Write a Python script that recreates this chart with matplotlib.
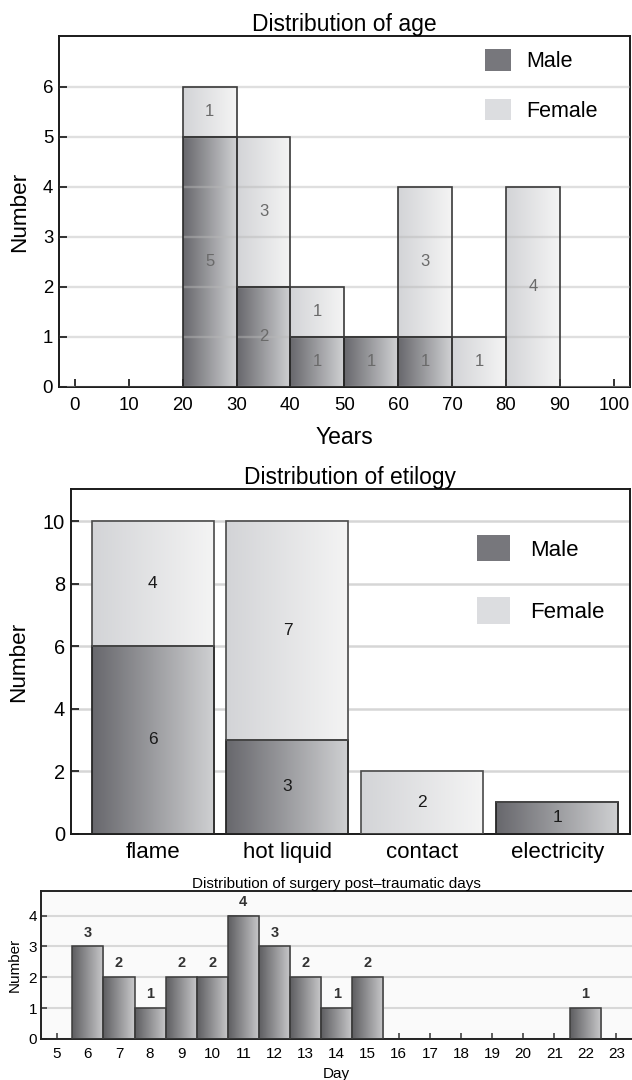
import numpy as np
import matplotlib
matplotlib.use("Agg")
import matplotlib.pyplot as plt
from matplotlib.colors import LinearSegmentedColormap
from matplotlib.patches import Patch
from matplotlib import font_manager

plt.rcParams['font.family'] = ['Liberation Sans', 'DejaVu Sans']

_names = {f.name for f in font_manager.fontManager.ttflist}
NARROW = 'Liberation Sans Narrow' in _names

# ---------------- data ----------------
age_bins = [0, 10, 20, 30, 40, 50, 60, 70, 80, 90]
age_male = [0, 0, 5, 2, 1, 1, 1, 0, 0]
age_female = [0, 0, 1, 3, 1, 0, 3, 1, 4]
age_ticks = [0, 10, 20, 30, 40, 50, 60, 70, 80, 90, 100]

etiology = ['flame', 'hot liquid', 'contact', 'electricity']
etio_male = [6, 3, 0, 1]
etio_female = [4, 7, 2, 0]

days = [6, 7, 8, 9, 10, 11, 12, 13, 14, 15, 22]
day_counts = [3, 2, 1, 2, 2, 4, 3, 2, 1, 2, 1]
day_ticks = list(range(5, 24))

MALE = ('#68686d', '#cfd0d2')
FEMALE = ('#d3d4d7', '#f4f4f4')
DAYC = ('#5e5e61', '#c9c9cb')

grad = np.linspace(0, 1, 64).reshape(1, -1)


def shade(ax, bars, colors, z):
    cmap = LinearSegmentedColormap.from_list('g', list(colors))
    for b in bars:
        h = b.get_height()
        if h <= 0:
            continue
        x, y = b.get_xy()
        w = b.get_width()
        ax.imshow(grad, extent=[x, x + w, y, y + h], aspect='auto', cmap=cmap,
                  interpolation='bilinear', zorder=z)


fig = plt.figure(figsize=(6.32, 10.8), dpi=100)

# ---------------- panel 1: age ----------------
ax1 = fig.add_axes([0.0929, 0.6417, 0.9035, 0.325])
left = age_bins[:-1]
b_m = ax1.bar(left, age_male, width=10, align='edge', facecolor='none',
              edgecolor='#2a2a2a', linewidth=1.2, zorder=3)
b_f = ax1.bar(left, age_female, width=10, bottom=age_male, align='edge',
              facecolor='none', edgecolor='#3a3a3a', linewidth=1.2, zorder=3)
shade(ax1, b_m, MALE, 2)
shade(ax1, b_f, FEMALE, 2)
for x, m, f in zip(left, age_male, age_female):
    if m > 0:
        ax1.text(x + 5, m / 2, str(m), ha='center', va='center', fontsize=12,
                 color='#6a6a6a', zorder=6)
    if f > 0:
        ax1.text(x + 5, m + f / 2, str(f), ha='center', va='center', fontsize=12,
                 color='#6a6a6a', zorder=6)
ax1.set_xlim(-3.0, 102.95)
ax1.set_ylim(0, 7.02)
ax1.set_xticks(age_ticks)
ax1.set_yticks(range(0, 7))
ax1.yaxis.grid(True, color='#b8b8b8', linewidth=1.7, alpha=0.45, zorder=5)
ax1.set_axisbelow(False)
ax1.tick_params(direction='in', length=6, width=1.3, labelsize=13.4, color='#222222')
ax1.tick_params(axis='x', pad=7)
ax1.tick_params(axis='y', pad=4)
for s in ax1.spines.values():
    s.set_linewidth(1.4)
    s.set_color('#1a1a1a')
ax1.set_title('Distribution of age', fontsize=16.5, pad=3)
ax1.set_xlabel('Years', fontsize=16.5, labelpad=9)
ax1.set_ylabel('Number', fontsize=16.2, labelpad=9)
ax1.legend(handles=[Patch(facecolor='#77777c', edgecolor='none', label='Male'),
                    Patch(facecolor='#dcdde0', edgecolor='none', label='Female')],
           loc='upper left', bbox_to_anchor=(485 / 632, 1 - 49 / 1080),
           bbox_transform=fig.transFigure, frameon=False, fontsize=15.5,
           handlelength=1.21, handleheight=1.16, handletextpad=0.7,
           labelspacing=1.25, borderpad=0, borderaxespad=0)

# ---------------- panel 2: etiology ----------------
ax2 = fig.add_axes([0.1119, 0.2282, 0.8850, 0.3187])
xpos = np.arange(len(etiology))
e_m = ax2.bar(xpos, etio_male, width=0.905, facecolor='none',
              edgecolor='#262626', linewidth=1.3, zorder=3)
e_f = ax2.bar(xpos, etio_female, width=0.905, bottom=etio_male, facecolor='none',
              edgecolor='#4a4a4a', linewidth=1.2, zorder=3)
shade(ax2, e_m, MALE, 2)
shade(ax2, e_f, FEMALE, 2)
lab_font = ['Liberation Sans Narrow', 'Liberation Sans'] if NARROW else ['Liberation Sans']
for x, m, f in zip(xpos, etio_male, etio_female):
    if m > 0:
        ax2.text(x, m / 2, str(m), ha='center', va='center',
                 fontsize=14 if NARROW else 12.5, family=lab_font,
                 color='#1a1a1a', zorder=6)
    if f > 0:
        ax2.text(x, m + f / 2, str(f), ha='center', va='center',
                 fontsize=14 if NARROW else 12.5, family=lab_font,
                 color='#1a1a1a', zorder=6)
ax2.set_xlim(-0.607, 3.54)
ax2.set_ylim(0, 11.03)
ax2.set_xticks(xpos)
ax2.set_xticklabels(etiology, family=lab_font, fontsize=19 if NARROW else 16)
ax2.set_yticks(range(0, 11, 2))
ax2.yaxis.grid(True, color='#d6d6d6', linewidth=1.8, zorder=0)
ax2.set_axisbelow(True)
ax2.tick_params(direction='in', length=6, width=1.3, color='#222222')
ax2.tick_params(axis='x', pad=6)
ax2.tick_params(axis='y', labelsize=14.4, pad=4)
for t in ax2.xaxis.get_major_ticks():
    t.tick1line.set_zorder(7)
for s in ax2.spines.values():
    s.set_linewidth(1.4)
    s.set_color('#1a1a1a')
ax2.set_title('Distribution of etilogy', fontsize=16.4, pad=3)
ax2.set_ylabel('Number', fontsize=16.2, labelpad=10)
ax2.legend(handles=[Patch(facecolor='#77777c', edgecolor='none', label='Male'),
                    Patch(facecolor='#dcdde0', edgecolor='none', label='Female')],
           loc='upper left', bbox_to_anchor=(477 / 632, 1 - 535 / 1080),
           bbox_transform=fig.transFigure, frameon=False, fontsize=16,
           handlelength=1.49, handleheight=1.45, handletextpad=0.9,
           labelspacing=1.62, borderpad=0, borderaxespad=0)

# ---------------- panel 3: surgery days ----------------
ax3 = fig.add_axes([0.0653, 0.0380, 0.9347, 0.1370])
ax3.set_facecolor('#fafafa')
d_b = ax3.bar(days, day_counts, width=1.0, facecolor='none',
              edgecolor='#3c3c3c', linewidth=1.1, zorder=3)
shade(ax3, d_b, DAYC, 2)
for x, c in zip(days, day_counts):
    ax3.annotate(str(c), (x, c), xytext=(0, 5), textcoords='offset points',
                 ha='center', va='bottom', fontsize=10.5, fontweight='bold',
                 color='#333333', zorder=6)
ax3.set_xlim(4.5, 23.5)
ax3.set_ylim(0, 4.8)
ax3.set_xticks(day_ticks)
ax3.set_yticks(range(0, 5))
ax3.yaxis.grid(True, color='#d8d8d8', linewidth=1.5, zorder=0)
ax3.set_axisbelow(True)
ax3.tick_params(direction='in', length=4, width=1.1, labelsize=11, color='#333333')
ax3.tick_params(axis='x', pad=6)
ax3.tick_params(axis='y', pad=3)
ax3.spines['right'].set_visible(False)
for k in ('left', 'bottom', 'top'):
    ax3.spines[k].set_linewidth(1.4)
    ax3.spines[k].set_color('#222222')
ax3.set_title('Distribution of surgery post\u2013traumatic days', fontsize=11, pad=2)
ax3.set_xlabel('Day', fontsize=11, labelpad=4)
ax3.set_ylabel('Number', fontsize=11, labelpad=5)

fig.savefig('out.png', dpi=100)
